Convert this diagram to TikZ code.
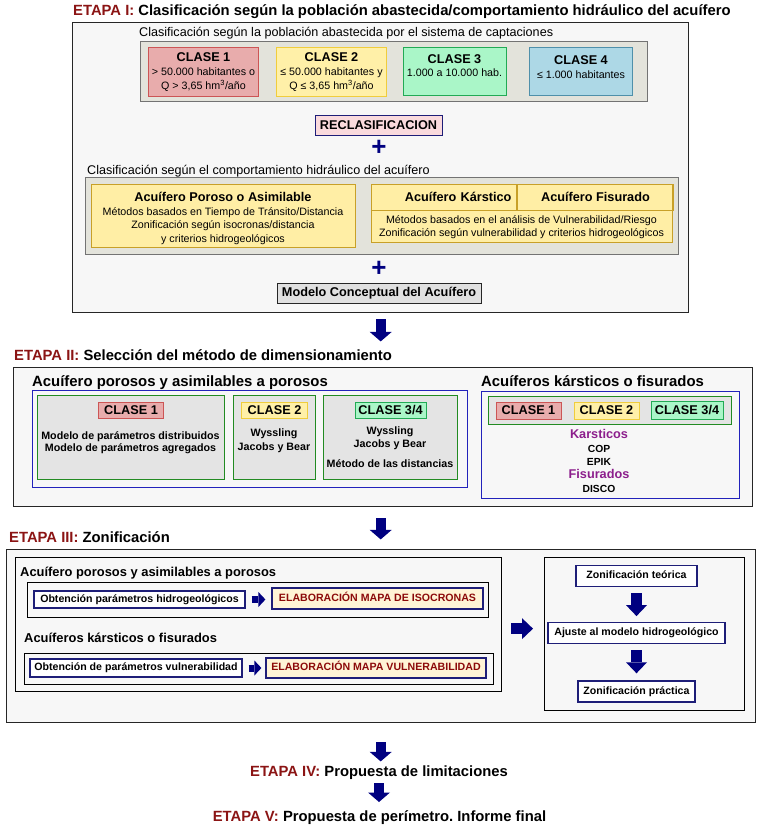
\documentclass[tikz,border=0pt]{standalone}
\usepackage{fontspec}
\setmainfont{Liberation Sans}
\usetikzlibrary{positioning, arrows.meta}
\frenchspacing

\definecolor{navy}{RGB}{0,0,128}
\definecolor{navyline}{RGB}{30,30,120}
\definecolor{etared}{RGB}{139,20,20}
\definecolor{darkred}{RGB}{140,10,10}
\definecolor{panel}{RGB}{247,247,247}
\definecolor{panelgray}{RGB}{227,227,219}
\definecolor{rosefill}{RGB}{232,172,172}
\definecolor{roseline}{RGB}{204,85,85}
\definecolor{sunfill}{RGB}{255,240,168}
\definecolor{sunline}{RGB}{240,205,60}
\definecolor{mintfill}{RGB}{170,246,200}
\definecolor{mintline}{RGB}{34,170,85}
\definecolor{skyfill}{RGB}{173,216,230}
\definecolor{skyline}{RGB}{79,144,170}
\definecolor{ochrefill}{RGB}{255,238,165}
\definecolor{ochreline}{RGB}{200,160,40}
\definecolor{pinkfill}{RGB}{250,218,221}
\definecolor{greenline}{RGB}{34,139,34}
\definecolor{blueline}{RGB}{34,34,187}
\definecolor{creamfill}{RGB}{255,244,214}
\definecolor{purpleK}{RGB}{140,30,140}
\definecolor{modelgray}{RGB}{224,224,224}
\definecolor{cellgray}{RGB}{228,228,228}

\newcommand\ftitle{\fontsize{14.8}{17}\selectfont\bfseries}
\newcommand\fbig{\fontsize{14.9}{17}\selectfont\bfseries}
\newcommand\fmid{\fontsize{12.9}{15}\selectfont\bfseries}
\newcommand\fhead{\fontsize{12.7}{15}\selectfont\bfseries}
\newcommand\fcap{\fontsize{12.6}{15}\selectfont}
\newcommand\fbody{\fontsize{10.7}{13.3}\selectfont}
\newcommand\fsmall{\fontsize{10.6}{12}\selectfont\bfseries}

\tikzset{
  dim/.style 2 args={minimum width=#1pt, minimum height=#2pt},
  stagebox/.style={anchor=north west, draw=black!85, line width=1.4pt, fill=panel},
  innerbox/.style={anchor=north west, draw=black, line width=1.3pt, fill=panel},
  graypanel/.style={anchor=north west, draw=black!55, line width=1pt, fill=panelgray},
  clasebox/.style={anchor=north west, line width=1pt},
  clasetxt/.style={align=center, font=\fbody},
  tagbox/.style={line width=1pt, font=\fhead},
  groupbox/.style={anchor=north west, draw=greenline, line width=1.1pt, fill=cellgray},
  familybox/.style={anchor=north west, draw=blueline, line width=1.1pt},
  etapa/.style={anchor=base west, font=\ftitle},
  etapac/.style={anchor=base, font=\ftitle},
  captext/.style={anchor=base west, font=\fcap},
  bighead/.style={anchor=base west, font=\fbig},
  midhead/.style={anchor=base west, font=\fmid},
  plussign/.style={text=navy, font=\fontsize{26}{26}\selectfont\bfseries},
  stepbox/.style={draw=navyline, fill=white, line width=1.2pt, font=\fsmall,
    text height=7.8pt, text depth=2.3pt},
  elabbox/.style={stepbox, fill=creamfill, text=darkred},
  bigarrow/.style={draw=navy, line width=10pt,
    -{Triangle[width=22pt, length=9.5pt, line width=0pt]}},
  steparrow/.style={draw=navy, line width=11pt,
    -{Triangle[width=21pt, length=11pt, line width=0pt]}},
  smallarrow/.style={draw=navy, line width=7pt,
    -{Triangle[width=15pt, length=7pt, line width=0pt]}},
}

\begin{document}
\begin{tikzpicture}[x=1pt, y=-1pt, every node/.style={inner sep=0pt}]
  \useasboundingbox (0,0) rectangle (762,828);

  % ETAPA I
  \node[etapa] (t1) at (73,15) {\textcolor{etared}{ETAPA I:} Clasificación según la población abastecida/comportamiento hidráulico del acuífero};
  \node[stagebox, dim={616}{290}] (boxI) at (72,22) {};
  \node[captext] (cap1) at (139,36) {Clasificación según la población abastecida por el sistema de captaciones};
  \node[graypanel, dim={507}{60}] (grayI) at (139.5,41) {};

  \node[clasebox, fill=rosefill, draw=roseline, dim={110}{49}] (c1) at (148,47) {};
  \node[clasebox, fill=sunfill, draw=sunline, dim={110}{49}] (c2) at (276,47) {};
  \node[clasebox, fill=mintfill, draw=mintline, dim={103}{48}] (c3) at (402.5,47) {};
  \node[clasebox, fill=skyfill, draw=skyline, dim={103}{48}] (c4) at (529,47) {};
  \node[clasetxt] (c1t) at (c1) {{\fhead CLASE 1}\\[0.7pt] > 50.000 habitantes o\\ Q > 3,65 hm\textsuperscript{3}/año};
  \node[clasetxt] (c2t) at (c2) {{\fhead CLASE 2}\\[0.7pt] ≤ 50.000 habitantes y\\ Q ≤ 3,65 hm\textsuperscript{3}/año};
  \node[clasetxt, yshift=6pt] (c3t) at (c3) {{\fhead CLASE 3}\\ 1.000 a 10.000 hab.};
  \node[clasetxt, yshift=4.5pt] (c4t) at (c4) {{\fhead CLASE 4}\\[0.4pt] ≤ 1.000 habitantes};

  \node[tagbox, draw=navyline, fill=pinkfill, dim={127}{20}] (recl) at (378.5,125) {RECLASIFICACION};
  \node[plussign] (plus1) at (379,148) {+};

  \node[captext] (cap2) at (87,174) {Clasificación según el comportamiento hidráulico del acuífero};
  \node[graypanel, dim={593}{77}] (grayII) at (85,177) {};
  \node[clasebox, fill=ochrefill, draw=ochreline, dim={264}{63}] (poro) at (91,184) {};
  \node[clasetxt] (porot) at (223,218.4) {{\fhead Acuífero Poroso o Asimilable}\\[0.4pt] Métodos basados en Tiempo de Tránsito/Distancia\\ Zonificación según isocronas/distancia\\ y criterios hidrogeológicos};
  \node[clasebox, fill=ochrefill, draw=ochreline, dim={301}{58}] (kf) at (371,184) {};
  \node[clasebox, tagbox, draw=ochreline, dim={145}{25.5}, text width=135pt, align=right] (kars) at (371,184) {Acuífero Kárstico};
  \node[tagbox, draw=ochreline, dim={156}{25.5}, right=0pt of kars] (fisu) {Acuífero Fisurado};
  \node[clasetxt, font=\fontsize{10.7}{13.5}\selectfont] (kft) at (521.5,227) {Métodos basados en el análisis de Vulnerabilidad/Riesgo\\ Zonificación según vulnerabilidad y criterios hidrogeológicos};

  \node[plussign] (plus2) at (379,269) {+};
  \node[tagbox, draw=black!85, fill=modelgray, dim={204}{20}] (model) at (379,293) {Modelo Conceptual del Acuífero};

  \draw[bigarrow] (boxI.south) ++(0,6) -- ++(0,22);

  % ETAPA II
  \node[etapa] (t2) at (14,360) {\textcolor{etared}{ETAPA II:} Selección del método de dimensionamiento};
  \node[stagebox, dim={739}{139}] (boxII) at (12.5,367) {};

  \node[bighead] (h2a) at (32,386) {Acuífero porosos y asimilables a porosos};
  \node[familybox, dim={435}{97}] (blueL) at (32,390) {};
  \node[groupbox, dim={187}{84}] (g1) at (37,395) {};
  \node[groupbox, dim={82}{84}] (g2) at (233,395) {};
  \node[groupbox, dim={134}{84}] (g3) at (323,395) {};
  \node[tagbox, fill=rosefill, draw=roseline, dim={65}{16}, below=7pt of g1.north] (l1) {CLASE 1};
  \node[tagbox, fill=sunfill, draw=sunline, dim={66}{16}, below=7pt of g2.north] (l2) {CLASE 2};
  \node[tagbox, fill=mintfill, draw=mintline, dim={71}{16}, below=7pt of g3.north] (l3) {CLASE 3/4};
  \node[align=center, font=\fontsize{10.7}{12}\selectfont\bfseries] (g1t) at (130.5,443.2) {Modelo de parámetros distribuidos\\ Modelo de parámetros agregados};
  \node[align=center, font=\fontsize{10.7}{14}\selectfont\bfseries] (g2t) at (274,441.2) {Wyssling\\ Jacobs y Bear};
  \node[align=center, font=\fontsize{10.7}{13}\selectfont\bfseries] (g3t) at (390,447.4) {Wyssling\\ Jacobs y Bear\\[7pt] Método de las distancias};

  \node[bighead] (h2b) at (481,386) {Acuíferos kársticos o fisurados};
  \node[familybox, dim={258}{107}] (blueR) at (481,390.5) {};
  \node[groupbox, dim={243}{28}] (gR) at (488,396) {};
  \node[tagbox, fill=rosefill, draw=roseline, dim={65}{17}] (lr1) at (528.5,410.5) {CLASE 1};
  \node[tagbox, fill=sunfill, draw=sunline, dim={65}{17}, right=12pt of lr1] (lr2) {CLASE 2};
  \node[tagbox, fill=mintfill, draw=mintline, dim={72}{18}, right=11pt of lr2] (lr3) {CLASE 3/4};
  \node[align=center, font=\fontsize{10.3}{13.4}\selectfont\bfseries] (kmeth) at (599,461) {{\color{purpleK}\fhead Karsticos}\\ COP\\ EPIK\\ {\color{purpleK}\fhead Fisurados}\\ DISCO};

  \draw[bigarrow] (boxII.south -| boxI.south) ++(0,11) -- ++(0,21);

  % ETAPA III
  \node[etapa] (t3) at (9,542) {\textcolor{etared}{ETAPA III:} Zonificación};
  \node[stagebox, dim={749}{173}] (boxIII) at (6,549) {};
  \node[innerbox, dim={486}{134}] (leftIn) at (15,557) {};
  \node[midhead] (h3a) at (20,576) {Acuífero porosos y asimilables a porosos};
  \node[innerbox, dim={461}{35}] (boxA) at (27,582) {};
  \node[stepbox, dim={211}{17}] (obt1) at (139.5,599.5) {Obtención parámetros hidrogeológicos};
  \node[elabbox, dim={211}{21}] (elab1) at (377.5,598.5) {ELABORACIÓN MAPA DE ISOCRONAS};
  \draw[smallarrow, shorten <=6pt, shorten >=6pt] (obt1.east) -- (obt1.east -| elab1.west);

  \node[midhead] (h3b) at (24,642) {Acuíferos kársticos o fisurados};
  \node[innerbox, dim={469}{31}] (boxB) at (24,653) {};
  \node[stepbox, dim={212}{18}] (obt2) at (136,668) {Obtención de parámetros vulnerabilidad};
  \node[elabbox, dim={220}{20}] (elab2) at (376,668) {ELABORACIÓN MAPA VULNERABILIDAD};
  \draw[smallarrow, shorten <=6pt, shorten >=4pt] (obt2.east) -- (obt2.east -| elab2.west);

  \node[innerbox, dim={200}{153}] (rightIn) at (544,557) {};
  \node[stepbox, dim={121}{21}] (zt) at (636.5,576) {Zonificación teórica};
  \node[stepbox, dim={177}{21}, below=35pt of zt] (aj) {Ajuste al modelo hidrogeológico};
  \node[stepbox, dim={117}{21}, below=36pt of aj] (zp) {Zonificación práctica};
  \draw[steparrow, shorten <=6pt, shorten >=6pt] (zt) -- (aj);
  \draw[steparrow, shorten <=6pt, shorten >=7pt] (aj) -- (zp);
  \draw[steparrow, shorten <=9pt, shorten >=11pt] ([yshift=-4pt]leftIn.east) -- ([yshift=-4pt]leftIn.east -| rightIn.west);

  \draw[bigarrow] (boxIII.south -| boxI.south) ++(0,19) -- ++(0,19);

  % ETAPA IV y V
  \node[etapac] (t4) at (379,776) {\textcolor{etared}{ETAPA IV:} Propuesta de limitaciones};
  \draw[bigarrow] (t4.base) ++(0,7) -- ++(0,19);
  \node[etapac] (t5) at (379.5,821) {\textcolor{etared}{ETAPA V:} Propuesta de perímetro. Informe final};
\end{tikzpicture}
\end{document}
